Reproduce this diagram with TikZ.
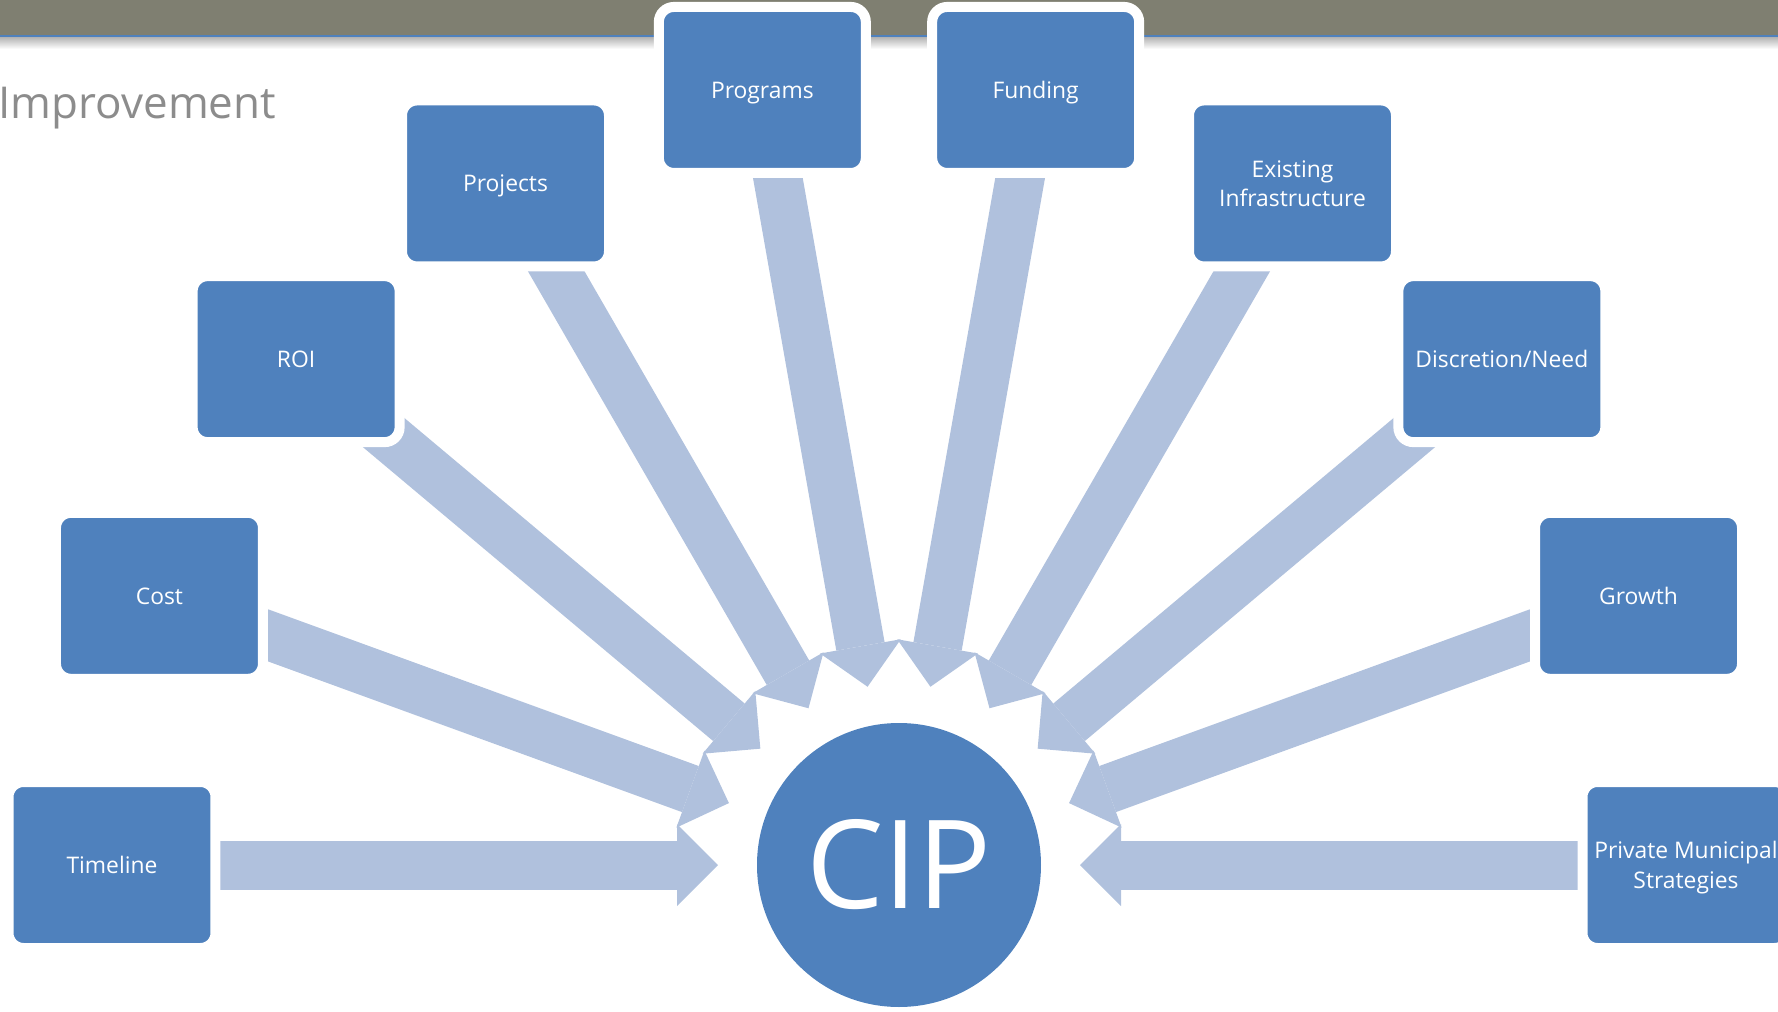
\documentclass[tikz,border=0pt]{standalone}
\usepackage{fontspec}
\setmainfont{Open Sans}
\usetikzlibrary{arrows.meta,calc,backgrounds}

\definecolor{barGrey}{RGB}{127,127,113}
\definecolor{cipBlue}{RGB}{79,129,189}
\definecolor{feedBlue}{RGB}{176,193,221}
\definecolor{titleGrey}{RGB}{140,140,140}

\tikzset{
  part/.style={rectangle, rounded corners=1.5mm, fill=cipBlue, draw=white,
    line width=1mm, minimum width=20.7mm, minimum height=16.6mm,
    text=white, align=center, text depth=0pt,
    font=\fontsize{6.5}{8.4}\selectfont},
  feed/.style={draw=feedBlue, line width=4.9mm,
    -{Triangle[width=8.2mm,length=4.1mm,line width=0pt]}},
}

\begin{document}
\begin{tikzpicture}[x=0.1mm,y=0.1mm]
  \useasboundingbox (0,0) rectangle (1778,1011);

  \node[anchor=base west, inner sep=0, text=titleGrey,
    font=\fontsize{12.5}{15}\selectfont] (title) at (-2,893) {Improvement};

  \node[circle, fill=cipBlue, minimum size=28.4mm, inner sep=0, text=white,
    font=\fontsize{35}{42}\selectfont] (cip) at (899,146) {CIP};

  % the ten inputs, every 20 degrees round the circle
  \foreach \a/\n/\t in {180/timeline/Timeline, 160/cost/Cost, 140/roi/ROI,
      120/projects/Projects, 100/programs/Programs, 80/funding/Funding,
      60/infra/{Existing\\Infrastructure}, 40/need/{Discretion/Need},
      20/growth/Growth, 0/private/{Private Municipal\\Strategies}}
    \node[part] (\n) at ($(cip.center)+(\a:787)$) {\t};

  \begin{pgfonlayer}{background}
    \fill[barGrey] (0,976) rectangle (1778,1011);
    \fill[cipBlue] (0,974) rectangle (1778,976);
    \shade[top color=black!30, bottom color=white] (0,962) rectangle (1778,974);
    \foreach \n in {timeline,cost,roi,projects,programs,funding,infra,need,growth,private}
      \draw[feed] (\n.center) -- ($(cip.center)!18.1mm!(\n.center)$);
  \end{pgfonlayer}
\end{tikzpicture}
\end{document}
